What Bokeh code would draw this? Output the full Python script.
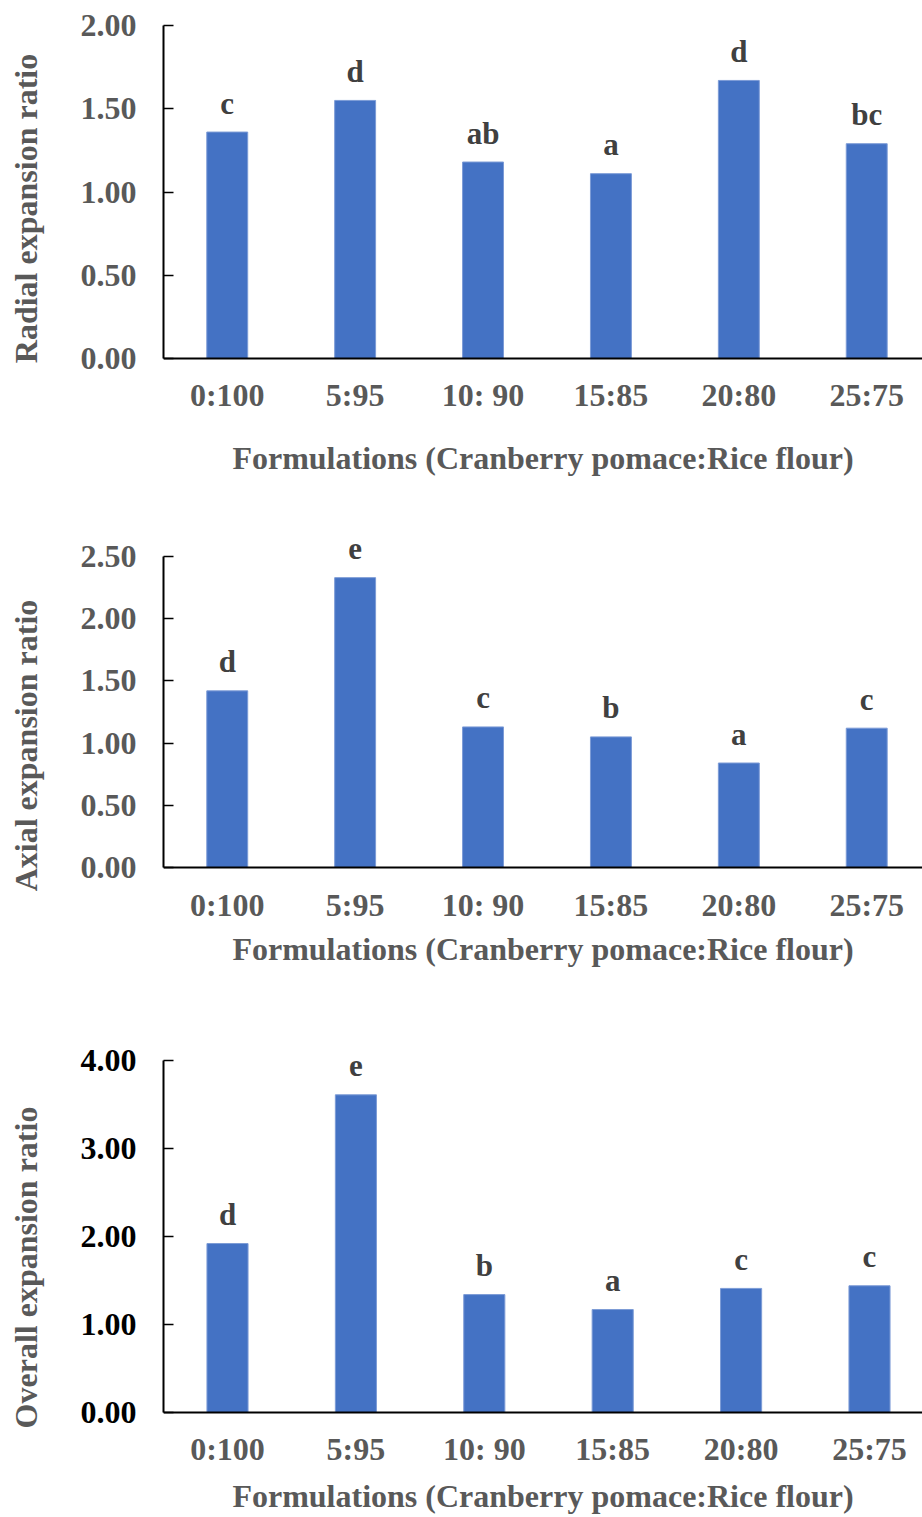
from bokeh.plotting import figure
from bokeh.layouts import column
from bokeh.models import Range1d, FixedTicker, ColumnDataSource, LinearAxis
from bokeh.core.properties import value
from bokeh.embed import file_html
from bokeh.resources import INLINE

categories = ["0:100", "5:95", "10: 90", "15:85", "20:80", "25:75"]

radial = [1.36, 1.55, 1.18, 1.11, 1.67, 1.29]
radial_letters = ["c", "d", "ab", "a", "d", "bc"]

axial = [1.42, 2.33, 1.13, 1.05, 0.84, 1.12]
axial_letters = ["d", "e", "c", "b", "a", "c"]

overall = [1.92, 3.61, 1.34, 1.17, 1.41, 1.44]
overall_letters = ["d", "e", "b", "a", "c", "c"]

y_titles = ["Radial expansion ratio", "Axial expansion ratio", "Overall expansion ratio"]
x_title = "Formulations (Cranberry pomace:Rice flour)"
y_ticks = [[0, 0.5, 1.0, 1.5, 2.0], [0, 0.5, 1.0, 1.5, 2.0, 2.5], [0, 1.0, 2.0, 3.0, 4.0]]
y_max = [2.0, 2.5, 4.0]

FONT = "Liberation Serif"
BAR = "#4472C4"
GREY = "#595959"
W = 922


def style_xlabel(ax, standoff):
    ax.axis_label = x_title
    ax.axis_label_text_font = FONT
    ax.axis_label_text_font_style = "bold"
    ax.axis_label_text_font_size = "32px"
    ax.axis_label_text_color = GREY
    ax.axis_label_standoff = standoff


def make(vals, letters, ytitle, ticks, ymax, fig_h, axis_top, axis_h,
         ext_top, ext_bottom, left, xt_standoff, xl_standoff, ytick_color,
         separate_xlabel=False):
    x = list(range(len(categories)))
    frame_w = W - left
    # 128.4 px per category, first center 64 px right of the axis
    x0 = -64 / 128.4
    x1 = x0 + frame_w / 128.4
    ppu = axis_h / ymax
    y0 = -ext_bottom / ppu
    y1 = ymax + ext_top / ppu
    top_border = axis_top - ext_top
    frame_h = ext_top + axis_h + ext_bottom
    bottom_border = fig_h - top_border - frame_h
    p = figure(width=W, height=fig_h,
               x_range=Range1d(x0, x1), y_range=Range1d(y0, y1),
               output_backend="svg", toolbar_location=None,
               min_border_left=left, min_border_right=0,
               min_border_top=top_border, min_border_bottom=bottom_border)
    p.outline_line_color = None
    p.xgrid.visible = False
    p.ygrid.visible = False
    src = ColumnDataSource(dict(x=x, top=vals, lab=letters))
    p.vbar(x="x", top="top", width=0.32, bottom=0, source=src,
           fill_color=BAR, line_color="#7C9BD6", line_width=1)
    p.text(x="x", y="top", text="lab", source=src, y_offset=-29,
           text_align="center", text_baseline="alphabetic",
           text_font=value(FONT), text_font_style="bold",
           text_font_size="31px", text_color="#404040")

    xa = p.xaxis[0]
    xa.fixed_location = 0
    xa.ticker = FixedTicker(ticks=x)
    xa.major_label_overrides = {i: c for i, c in enumerate(categories)}
    xa.major_tick_line_color = None
    xa.minor_tick_line_color = None
    xa.axis_line_color = "black"
    xa.axis_line_width = 2
    xa.major_label_text_font = FONT
    xa.major_label_text_font_style = "bold"
    xa.major_label_text_font_size = "32px"
    xa.major_label_text_color = GREY
    xa.major_label_standoff = xt_standoff
    if separate_xlabel:
        extra = LinearAxis(ticker=FixedTicker(ticks=[]), axis_line_color=None,
                           major_tick_line_color=None, minor_tick_line_color=None,
                           major_tick_out=0, major_tick_in=0, minor_tick_out=0,
                           major_label_standoff=0)
        style_xlabel(extra, xl_standoff)
        p.add_layout(extra, "below")
    else:
        style_xlabel(xa, xl_standoff)

    ya = p.yaxis[0]
    ya.bounds = (0, ymax)
    ya.ticker = FixedTicker(ticks=ticks)
    ya.major_label_overrides = {t: f"{t:.2f}" for t in ticks}
    ya.minor_tick_line_color = None
    ya.major_tick_in = 10
    ya.major_tick_out = 0
    ya.major_tick_line_color = "black"
    ya.major_tick_line_width = 1.5
    ya.axis_line_color = "black"
    ya.axis_line_width = 2
    ya.major_label_text_font = FONT
    ya.major_label_text_font_style = "bold"
    ya.major_label_text_font_size = "32px"
    ya.major_label_text_color = ytick_color
    ya.major_label_standoff = 27
    ya.axis_label = ytitle
    ya.axis_label_text_font = FONT
    ya.axis_label_text_font_style = "bold"
    ya.axis_label_text_font_size = "32px"
    ya.axis_label_text_color = GREY
    ya.axis_label_standoff = 34
    return p


p1 = make(radial, radial_letters, y_titles[0], y_ticks[0], y_max[0],
          500, 25, 333, 20, 53, 160, 12, 28, GREY, separate_xlabel=True)
p2 = make(axial, axial_letters, y_titles[1], y_ticks[1], y_max[1],
          510, 56, 311, 40, 107, 160, 13, 5, GREY)
p3 = make(overall, overall_letters, y_titles[2], y_ticks[2], y_max[2],
          507, 50, 352, 40, 102, 163, 12, 8, "black")

layout = column(p1, p2, p3, spacing=0)
open("out.html", "w").write(file_html(layout, INLINE))
